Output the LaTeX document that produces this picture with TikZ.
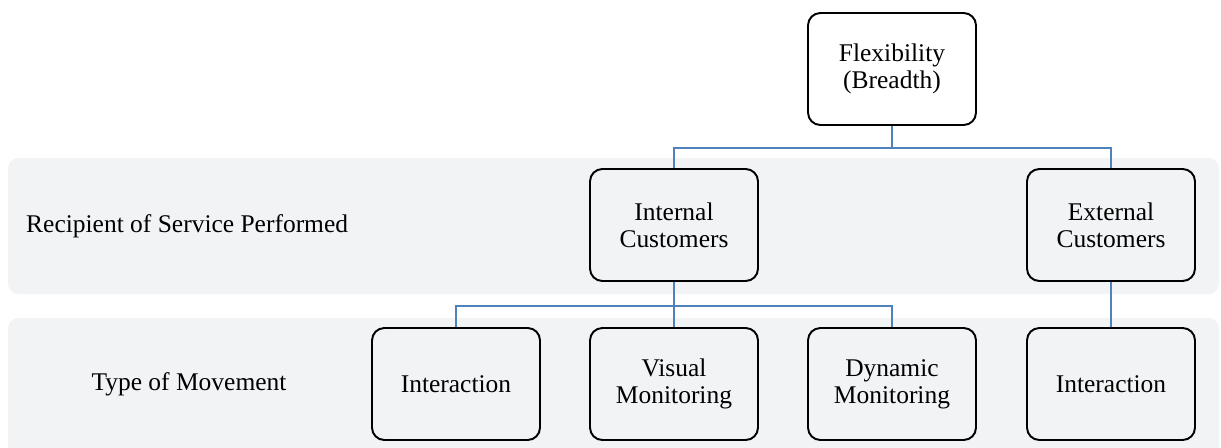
\documentclass[tikz,border=0pt]{standalone}
\usepackage{fontspec}
\setmainfont{Liberation Serif}
\usetikzlibrary{positioning}
\definecolor{bandgray}{RGB}{242,243,245}
\definecolor{linkblue}{RGB}{79,129,189}
\tikzset{box/.style={draw,rounded corners=7pt,line width=1.1pt,minimum width=3.36cm,minimum height=2.24cm,align=center,font=\fontsize{14.5}{15.5}\selectfont},
  link/.style={draw=linkblue,line width=1.3pt},
  band/.style={fill=bandgray,rounded corners=6pt},
  rowlabel/.style={font=\fontsize{14.5}{15.5}\selectfont}}

\begin{document}
\begin{tikzpicture}[x=0.02cm,y=-0.02cm]
\clip (0,0) rectangle (1221,447);
\fill[band] (8,158) rectangle (1219,294);
\fill[band] (8,318) rectangle (1219,460);

\node[rowlabel,anchor=west] (recip) at (20,226) {Recipient of Service Performed};
\node[rowlabel] (move) at (189,384) {Type of Movement};

\node[box] (flex) at (892,69) {Flexibility\\(Breadth)};
\node[box] (intc) at (674,225) {Internal\\Customers};
\node[box] (extc) at (1111,225) {External\\Customers};
\node[box] (inter) at (456,384) {Interaction};
\node[box] (vis) at (674,384) {Visual\\Monitoring};
\node[box] (dyn) at (892,384) {Dynamic\\Monitoring};
\node[box] (extinter) at (1111,384) {Interaction};

\draw[link] (flex.south) -- ++(0,22) -| (intc.north);
\draw[link] (flex.south) -- ++(0,22) -| (extc.north);
\draw[link] (intc.south) -- ++(0,24) -| (inter.north);
\draw[link] (intc.south) -- (vis.north);
\draw[link] (intc.south) -- ++(0,24) -| (dyn.north);
\draw[link] (extc.south) -- (extinter.north);
\end{tikzpicture}
\end{document}
